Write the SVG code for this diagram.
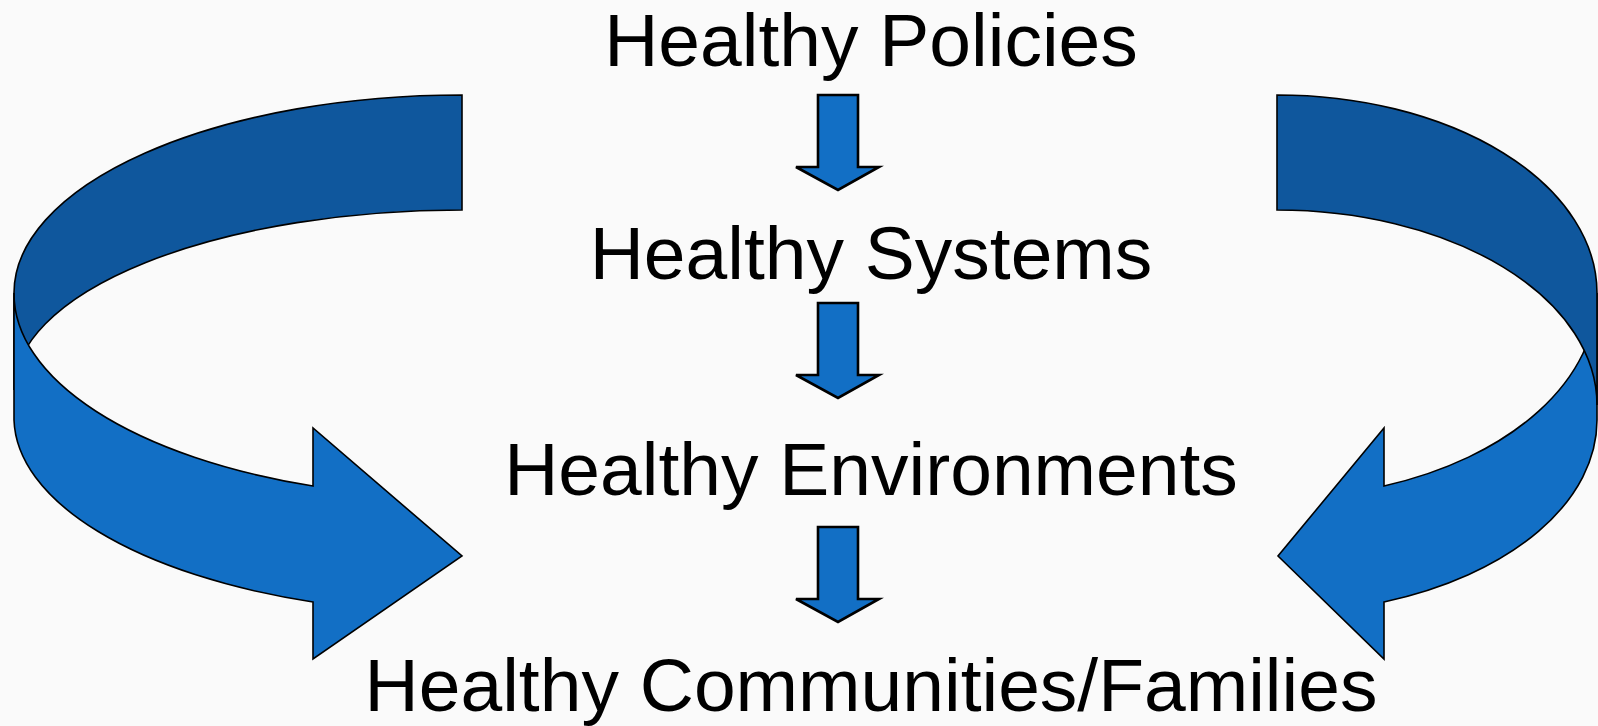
<svg xmlns="http://www.w3.org/2000/svg" width="1598" height="726" viewBox="0 0 1598 726">
<style>
.dark{fill:#0F579D;stroke:#000;stroke-width:1.6;stroke-linejoin:miter}
.light{fill:#126FC5;stroke:#000;stroke-width:1.6;stroke-linejoin:miter}
.small{fill:#126FC5;stroke:#000;stroke-width:2.6;stroke-linejoin:miter}
.lbl{font-family:"Liberation Sans",Arial,sans-serif;font-size:75px;fill:#000;text-anchor:middle}
</style>
<defs>
<path id="down" d="M-20,0 H20 V72 H41 L0,95 L-42,72 H-20 Z"/>
</defs>
<rect width="1598" height="726" fill="#FAFAFA"/>
<g id="left-arrow">
<path class="dark" d="M462,95 A448,198 0 0 0 14,293 L14,390 A448,180 0 0 1 462,210 Z"/>
<path class="light" d="M14,293 L14,420 A448,196 0 0 0 313,602 L313,659 L462,556 L313,428 L313,486 A448,204 0 0 1 14,293 Z"/>
</g>
<g id="right-arrow">
<path class="light" d="M1597,293 L1597,420 A320,193 0 0 1 1384,602 L1384,659 L1278,556 L1384,428 L1384,486 A320,204 0 0 0 1597,293 Z"/>
<path class="dark" d="M1277,95 A320,198 0 0 1 1597,293 L1597,405 A320,195 0 0 0 1277,210 Z"/>
</g>
<g id="policies"><text class="lbl" x="871" y="66">Healthy Policies</text></g>
<g id="systems"><text class="lbl" x="871" y="279">Healthy Systems</text></g>
<g id="environments"><text class="lbl" x="871" y="495">Healthy Environments</text></g>
<g id="communities"><text class="lbl" x="871" y="711">Healthy Communities/Families</text></g>
<g id="connectors">
<use href="#down" class="small" x="838" y="95"/>
<use href="#down" class="small" x="838" y="303"/>
<use href="#down" class="small" x="838" y="527"/>
</g>
</svg>
